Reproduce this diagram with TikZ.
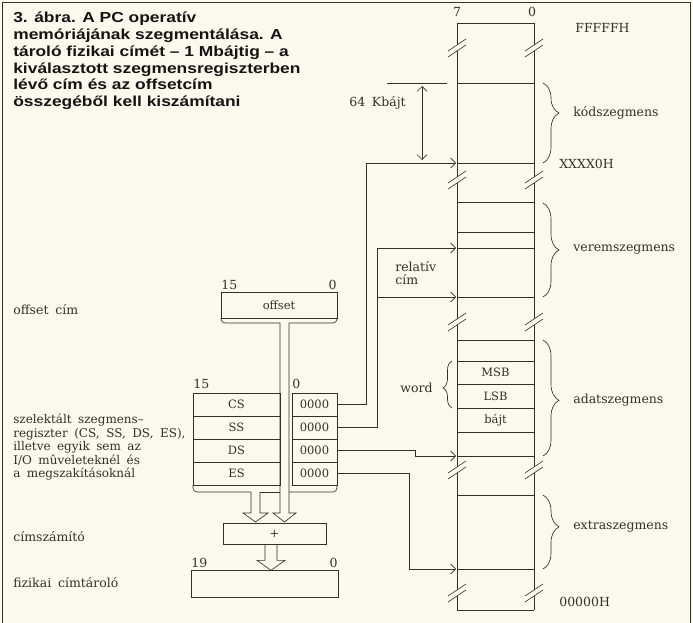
\documentclass[tikz,border=0pt]{standalone}
\usepackage{fontspec}
\setmainfont{DejaVu Serif}[WordSpace=1.7]
\newfontfamily\titlefont{Liberation Sans}[FakeStretch=1.2]
\usetikzlibrary{arrows.meta,decorations.pathreplacing}
\definecolor{paper}{RGB}{251,249,237}
\definecolor{ink}{RGB}{52,48,40}
\tikzset{
  lbl/.style={font=\fontsize{12.5}{13.5}\selectfont},
  cellfont/.style={font=\fontsize{11.5}{13}\selectfont},
  regcell/.style={draw,cellfont,minimum width=87pt,minimum height=23pt},
  zerocell/.style={draw,cellfont,minimum width=45pt,minimum height=23pt},
  ptr/.style={-{Straight Barb[length=5pt,width=10pt]},shorten >=1pt},
  segbrace/.style={decorate,decoration={brace,amplitude=16pt,aspect=#1}},
}
% break mark on a column edge
\newcommand{\cutmark}[2]{
  \draw (#1-9,#2+3) -- (#1+9,#2-9);
  \draw (#1-9,#2+9) -- (#1+9,#2-3);
}
\begin{document}
\begin{tikzpicture}[x=1pt,y=-1pt,line width=0.65pt,color=ink]
\tikzstyle{every node}+=[inner sep=0pt]
\useasboundingbox (0,0) rectangle (693,623);
\fill[paper] (0,0) rectangle (693,623);
\draw (2,623) -- (2,2) -- (690,2) -- (690,623);

% caption
\node[anchor=north west,align=left,text=black!92,
  font=\titlefont\bfseries\fontsize{14.5}{16.7}\selectfont] (title) at (13,12)
  {3. ábra. A PC operatív\\memóriájának szegmentálása. A\\tároló fizikai címét – 1 Mbájtig – a\\kiválasztott szegmensregiszterben\\lévő cím és az offsetcím\\összegéből kell kiszámítani};

% left texts
\node[lbl,anchor=west] (offlbl) at (13,310) {offset cím};
\node[lbl,anchor=north west,align=left,font=\fontsize{12}{13.5}\selectfont] (sellbl) at (13,414)
  {szelektált szegmens–\\regiszter (CS, SS, DS, ES),\\illetve egyik sem az\\I/O mûveleteknél és\\a megszakításoknál};
\node[lbl,anchor=west] (addlbl) at (13,537) {címszámító};
\node[lbl,anchor=west] (physlbl) at (13,583) {fizikai címtároló};

% memory column
\node[lbl,anchor=base] (bit7) at (457,17) {7};
\node[lbl,anchor=base] (bit0) at (532,17) {0};
\draw (457,23) -- (534,23) (457,610) -- (534,610);
\foreach \xx in {457,534} {
  \draw (\xx,23) -- (\xx,45) (\xx,51) -- (\xx,177) (\xx,183) -- (\xx,319)
        (\xx,325) -- (\xx,467) (\xx,473) -- (\xx,590) (\xx,596) -- (\xx,610);
  \foreach \yy in {48,180,322,470,593} {\cutmark{\xx}{\yy}}
}
\foreach \yy/\nm in {83/k1,163/k0,202/v2,232/v1,248/vrel,297/v0,340/a3,
                     361/msb,384/lsb,408/bajt,432/a1,456/a0,495/e1,569/e0}
  \draw (457,\yy) coordinate (\nm) -- (534,\yy);
\node[cellfont] (msbtxt) at (495.5,372.5) {MSB};
\node[cellfont] (lsbtxt) at (495.5,396) {LSB};
\node[cellfont] (bytetxt) at (495.5,420) {bájt};

\node[lbl,anchor=west] (ftop) at (575,28) {FFFFFH};
\node[lbl,anchor=west] (xbase) at (559,164) {XXXX0H};
\node[lbl,anchor=west] (zbot) at (559,602) {00000H};

% segments
\draw[segbrace=0.375] (543,83) -- (543,163);
\node[lbl,anchor=west] (codeseg) at (573,113) {kódszegmens};
\draw[segbrace=0.5] (543,203) -- (543,297);
\node[lbl,anchor=west] (stackseg) at (573,250) {veremszegmens};
\draw[segbrace=0.52] (543,340) -- (543,456);
\node[lbl,anchor=west] (dataseg) at (573,400) {adatszegmens};
\draw[segbrace=0.43] (543,495) -- (543,569);
\node[lbl,anchor=west] (extraseg) at (573,527) {extraszegmens};
\draw[decorate,decoration={brace,amplitude=9pt,aspect=0.43}] (452,408) -- (452,361);
\node[lbl,anchor=east] (wordlbl) at (433,388) {word};

% 64 Kbajt
\coordinate (limtop) at (387,83);
\coordinate (limend) at (447,83);
\draw (limtop) -- (limend);
\coordinate (dimtop) at (422,86);
\coordinate (dimbot) at (422,160);
\draw[{Straight Barb[length=5pt,width=10pt]}-{Straight Barb[length=5pt,width=10pt]}] (dimtop) -- (dimbot);
\node[lbl,anchor=east] (kblbl) at (406,103) {64 Kbájt};
\node[lbl,anchor=west,align=left] (rellbl) at (395,273) {relatív\\cím};

% offset register
\node[lbl,anchor=base west] (off15) at (221,289) {15};
\node[lbl,anchor=base east] (off0) at (337,289) {0};
\node[draw,cellfont,minimum width=116pt,minimum height=26pt] (offs) at (279,305) {offset};
\draw[rounded corners=4pt] (221,318) -- (221,323) -- (280,323);
\draw[rounded corners=4pt] (289,323) -- (337,323) -- (337,318);

% segment registers
\node[lbl,anchor=base west] (reg15) at (193,388) {15};
\node[lbl,anchor=base west] (reg0) at (292,388) {0};
\node[regcell] (cs) at (236.5,404.5) {CS};
\node[regcell] (ss) at (236.5,427.5) {SS};
\node[regcell] (ds) at (236.5,450.5) {DS};
\node[regcell] (es) at (236.5,473.5) {ES};
\node[zerocell] (cs0) at (314.5,404.5) {0000};
\node[zerocell] (ss0) at (314.5,427.5) {0000};
\node[zerocell] (ds0) at (314.5,450.5) {0000};
\node[zerocell] (es0) at (314.5,473.5) {0000};
\draw[rounded corners=4pt] (193,485) -- (193,492) -- (251,492);
\draw (260,492) -- (280,492);
\draw[rounded corners=4pt] (289,492) -- (337,492) -- (337,485);

% offset bus and block arrows
\draw (280,323) -- (280,513) -- (273,513) -- (284.5,522) -- (296,513) -- (289,513) -- (289,323);
\draw (251,492) -- (251,513) -- (243,513) -- (255.5,522) -- (268,513) -- (260,513) -- (260,492);

% adder and physical address
\node[draw,cellfont,minimum width=103pt,minimum height=21pt] (add) at (274.5,533.5) {+};
\draw (add.south) ++(-9.5,0) -- ++(0,16) -- ++(-8,0) -- ++(14,10) -- ++(14,-10) -- ++(-8,0) -- ++(0,-16);
\node[draw,minimum width=147pt,minimum height=27pt] (phys) at (264.5,583.5) {};
\node[lbl,anchor=base west] (phys19) at (191,567) {19};
\node[lbl,anchor=base east] (phys0) at (338,567) {0};

% register pointers
\coordinate (csup) at (366,163);
\draw[ptr] (cs0.east) -| (csup) -- (k0);
\coordinate (ssup) at (377,248);
\coordinate (ssmid) at (377,297);
\draw[ptr] (ss0.east) -| (ssup) -- (vrel);
\draw[ptr] (ssmid) -- (v0);
\coordinate (dsstep) at (415,450.5);
\draw[ptr] (ds0.east) -- (dsstep) |- (a0);
\coordinate (esdown) at (409,569);
\draw[ptr] (es0.east) -| (esdown) -- (e0);
\end{tikzpicture}
\end{document}
